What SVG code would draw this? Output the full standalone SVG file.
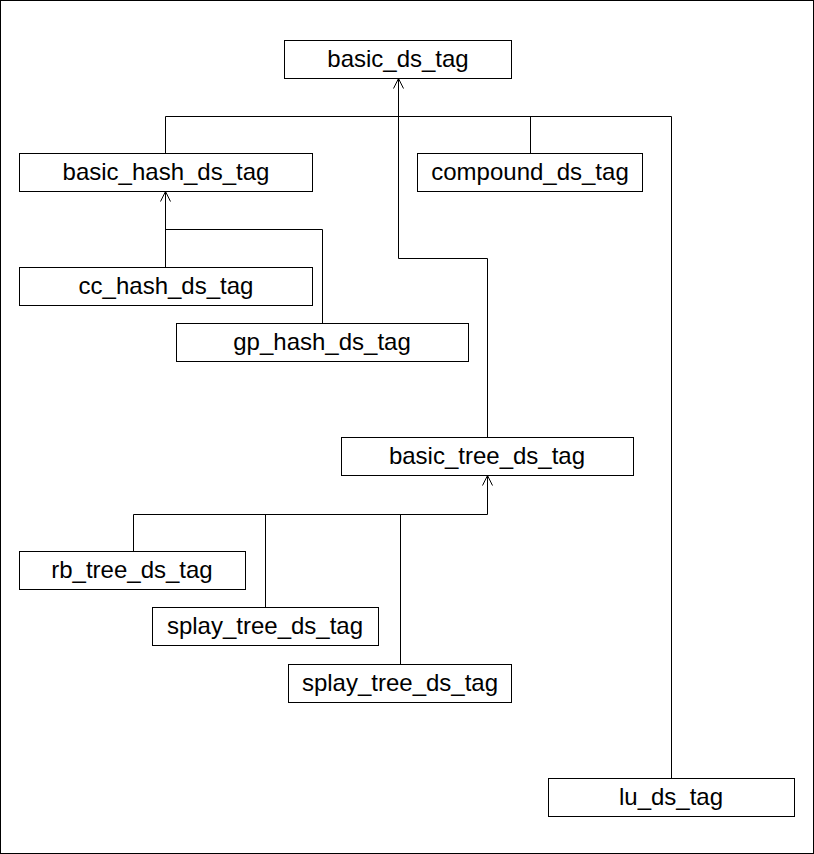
<svg xmlns="http://www.w3.org/2000/svg" width="814" height="854" viewBox="0 0 814 854">
<style>
.n rect{fill:#fff;stroke:#000;stroke-width:1}
.n text{font-family:"Liberation Sans",Arial,sans-serif;font-size:24px;text-anchor:middle;fill:#000}
.c path{fill:none;stroke:#000;stroke-width:1}
</style>
<defs>
<marker id="ah" viewBox="0 0 12 12" refX="11" refY="6" markerWidth="12" markerHeight="12" markerUnits="userSpaceOnUse" orient="auto">
<path d="M1,1 L11,6 L1,11" fill="none" stroke="#000" stroke-width="1"/>
</marker>
</defs>
<rect x="0.5" y="0.5" width="813" height="853" fill="#fff" stroke="#000" stroke-width="1"/>
<g class="c" id="connectors">
<path d="M165.5,116.5 H671.5"/>
<path d="M165.5,116.5 V153"/>
<path d="M530.5,116.5 V153"/>
<path d="M671.5,116.5 V778"/>
<path d="M487.5,437 V258.5 H398.5 V78.5" marker-end="url(#ah)"/>
<path d="M165.5,267 V191.5" marker-end="url(#ah)"/>
<path d="M322.5,323 V229.5 H165.5"/>
<path d="M133.5,551 V514.5 H487.5 V475.5" marker-end="url(#ah)"/>
<path d="M265.5,607 V514.5"/>
<path d="M400.5,664 V514.5"/>
</g>
<g class="n" id="basic_ds_tag"><rect x="284.5" y="40.5" width="227" height="38"/><text x="398" y="67">basic_ds_tag</text></g>
<g class="n" id="basic_hash_ds_tag"><rect x="19.5" y="153.5" width="293" height="38"/><text x="166" y="180">basic_hash_ds_tag</text></g>
<g class="n" id="compound_ds_tag"><rect x="417.5" y="153.5" width="225" height="38"/><text x="530" y="180">compound_ds_tag</text></g>
<g class="n" id="cc_hash_ds_tag"><rect x="19.5" y="267.5" width="293" height="38"/><text x="166" y="294">cc_hash_ds_tag</text></g>
<g class="n" id="gp_hash_ds_tag"><rect x="176.5" y="323.5" width="292" height="38"/><text x="322" y="350">gp_hash_ds_tag</text></g>
<g class="n" id="basic_tree_ds_tag"><rect x="341.5" y="437.5" width="292" height="38"/><text x="487" y="464">basic_tree_ds_tag</text></g>
<g class="n" id="rb_tree_ds_tag"><rect x="19.5" y="551.5" width="226" height="38"/><text x="132" y="578">rb_tree_ds_tag</text></g>
<g class="n" id="splay_tree_ds_tag_1"><rect x="152.5" y="607.5" width="226" height="38"/><text x="265" y="634">splay_tree_ds_tag</text></g>
<g class="n" id="splay_tree_ds_tag_2"><rect x="288.5" y="664.5" width="223" height="38"/><text x="400" y="691">splay_tree_ds_tag</text></g>
<g class="n" id="lu_ds_tag"><rect x="548.5" y="778.5" width="246" height="38"/><text x="671" y="805">lu_ds_tag</text></g>
</svg>
